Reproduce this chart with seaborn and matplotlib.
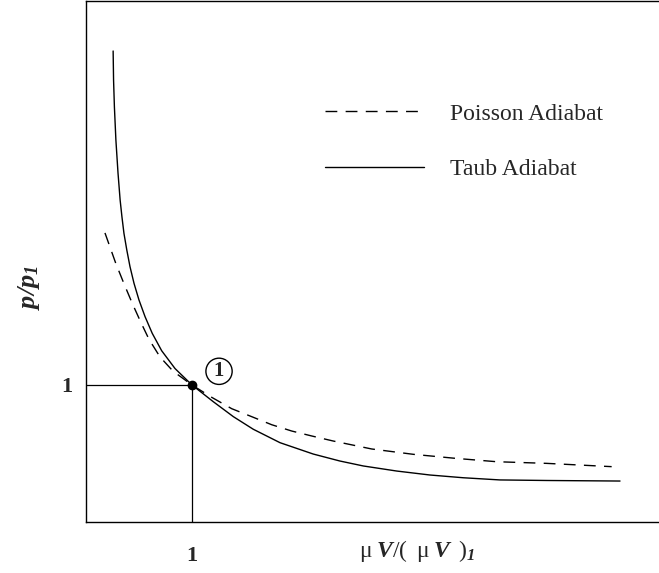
import matplotlib
matplotlib.use("Agg")
import matplotlib.pyplot as plt
import seaborn as sns
import pandas as pd

# Normalised specific volume and pressure ratio along the Taub (shock) adiabat
taub_v = [0.256, 0.260, 0.268, 0.282, 0.302, 0.322, 0.339, 0.358, 0.385, 0.415,
          0.453, 0.500, 0.557, 0.625, 0.714, 0.840, 1.000, 1.201, 1.390, 1.578,
          1.830, 2.144, 2.396, 2.616, 2.931, 3.245, 3.559, 3.906, 4.346, 5.038]
taub_p = [3.438, 3.226, 3.029, 2.788, 2.547, 2.350, 2.228, 2.107, 1.985, 1.864,
          1.742, 1.620, 1.499, 1.377, 1.250, 1.120, 1.000, 0.878, 0.769, 0.677,
          0.579, 0.496, 0.445, 0.409, 0.372, 0.343, 0.323, 0.307, 0.303, 0.299]

# ... and along the Poisson adiabat
poisson_v = [0.179, 0.280, 0.358, 0.437, 0.516, 0.594, 0.698, 0.821, 1.000, 1.186,
             1.375, 1.563, 1.752, 1.941, 2.129, 2.333, 2.695, 3.088, 3.481, 3.874,
             4.346, 4.959]
poisson_p = [2.110, 1.890, 1.740, 1.595, 1.460, 1.334, 1.205, 1.101, 1.000, 0.910,
             0.827, 0.769, 0.710, 0.664, 0.628, 0.591, 0.533, 0.494, 0.465, 0.440,
             0.428, 0.404]

# Initial state "1"
state_v = [1.0]
state_p = [1.0]

tick_vals = [1]
tick_labels = ["1"]

sns.set_style("white")
plt.rcParams["font.family"] = ["Liberation Serif", "DejaVu Serif"]
plt.rcParams["mathtext.fontset"] = "custom"
plt.rcParams["mathtext.rm"] = "Liberation Serif"
plt.rcParams["mathtext.it"] = "Liberation Serif:italic"
plt.rcParams["mathtext.bf"] = "Liberation Serif:bold:italic"
plt.rcParams["lines.solid_joinstyle"] = "round"
plt.rcParams["lines.dash_joinstyle"] = "round"

fig = plt.figure(figsize=(6.59, 5.73), dpi=100)
ax = fig.add_axes([86 / 659, 51 / 573, 573 / 659, 521 / 573])

taub = pd.DataFrame({"v": taub_v, "p": taub_p})
poisson = pd.DataFrame({"v": poisson_v, "p": poisson_p})

sns.lineplot(data=poisson, x="v", y="p", ax=ax, color="black", lw=1.0,
             linestyle=(0, (8.5, 6)), sort=False, label="Poisson Adiabat")
sns.lineplot(data=taub, x="v", y="p", ax=ax, color="black", lw=1.0,
             sort=False, label="Taub Adiabat")

# Guide lines to the initial state
ax.plot([0, state_v[0]], [state_p[0], state_p[0]], color="black", lw=0.9)
ax.plot([state_v[0], state_v[0]], [0, state_p[0]], color="black", lw=0.9)
ax.plot(state_v, state_p, "o", color="black", ms=6, zorder=5)
ax.text(1.255, 1.10, "1", ha="center", va="center", fontsize=15, fontweight="bold",
        bbox=dict(boxstyle="circle,pad=0.15", fc="white", ec="black", lw=1.0))

ax.set_xlim(0, 573 / 106)
ax.set_ylim(0, 521 / 137)

ax.set_xticks(tick_vals)
ax.set_xticklabels(tick_labels, fontsize=16, fontweight="bold")
ax.set_yticks(tick_vals)
ax.set_yticklabels(tick_labels, fontsize=16, fontweight="bold")
ax.tick_params(axis="both", length=0)
ax.tick_params(axis="x", pad=17)
ax.tick_params(axis="y", pad=10)

ax.set_xlabel(r"$\mathrm{\mu}\;\mathbf{V}/(\;\;\mathrm{\mu}\;\mathbf{V}\;\;)_{\mathbf{1}}$",
              fontsize=17)
ax.xaxis.set_label_coords(0.578, -0.031)
ax.set_ylabel(r"$\mathbf{p/p}_{\mathbf{1}}$", fontsize=19)
ax.yaxis.set_label_coords(-0.076, 0.45)

for side in ["left", "bottom", "top"]:
    ax.spines[side].set_color("black")
    ax.spines[side].set_linewidth(1.0)
ax.spines["right"].set_visible(False)

ax.legend(loc="upper left", bbox_to_anchor=(0.38, 0.845), frameon=False, fontsize=17,
          handlelength=4.2, handletextpad=1.1, labelspacing=1.45)

fig.savefig("out.png", dpi=100)
